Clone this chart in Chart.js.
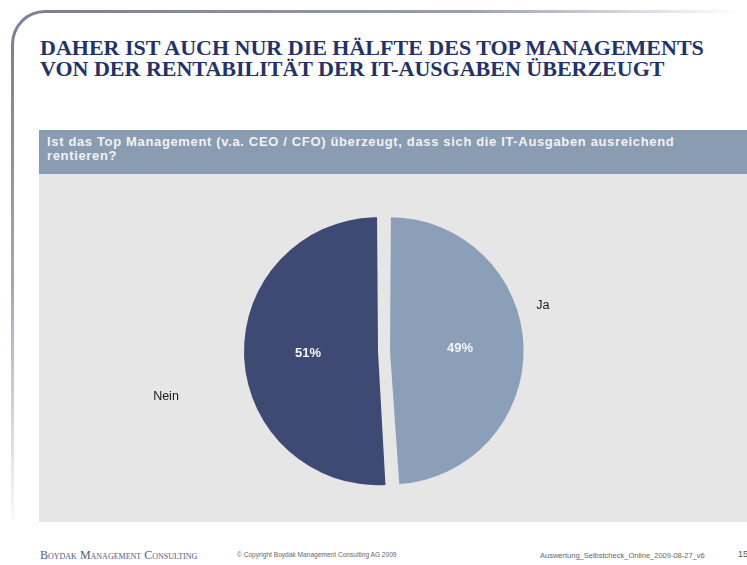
<!DOCTYPE html>
<html>
<head>
<meta charset="utf-8">
<script src="https://cdn.jsdelivr.net/npm/chart.js@4.4.0/dist/chart.umd.min.js"></script>
<style>
  html, body { margin: 0; padding: 0; background: #fff; }
  body { width: 747px; height: 565px; position: relative; overflow: hidden; font-family: "Liberation Sans", Arial, sans-serif; }
  .corner { position: absolute; left: 11px; top: 10px; width: 40px; height: 40px; border-left: 3px solid #7c8198; border-top: 3px solid #7c8198; border-top-left-radius: 34px; box-sizing: border-box; }
  .topline { position: absolute; left: 50px; top: 10px; width: 690px; height: 3px; background: linear-gradient(to right, #7c8198 0%, #9a9eb0 60%, rgba(220,222,230,0) 100%); }
  .leftline { position: absolute; left: 11px; top: 50px; width: 3px; height: 470px; background: linear-gradient(to bottom, #7c8198 0%, #a3a7b8 50%, rgba(235,236,240,0.3) 100%); }
  .title { position: absolute; left: 40px; top: 37px; font-family: "Liberation Serif", "Times New Roman", serif; font-weight: bold; font-size: 22px; line-height: 21px; color: #22326d; white-space: nowrap; }
  .bar { position: absolute; left: 39px; top: 130px; width: 708px; height: 44px; background: #8a9cb1; }
  .bar span { position: absolute; left: 8px; top: 5px; font-weight: bold; font-size: 13px; letter-spacing: 0.65px; line-height: 14px; color: #f1f2f5; white-space: nowrap; }
  .panel { position: absolute; left: 39px; top: 174px; width: 708px; height: 348px; background: #e6e6e6; }
  .footer { position: absolute; top: 551px; white-space: nowrap; }
  .f1 { left: 40px; font-family: "Liberation Serif", serif; font-variant: small-caps; font-size: 12px; color: #4d5a8a; top: 548px; }
  .f2 { left: 237px; font-size: 6.6px; color: #666; }
  .f3 { left: 540px; font-size: 7.5px; color: #666; }
  .f4 { left: 738px; font-size: 9px; color: #555; top: 549px; }
</style>
</head>
<body>
<div class="corner"></div>
<div class="topline"></div>
<div class="leftline"></div>
<div class="title">DAHER IST AUCH NUR DIE HÄLFTE DES TOP MANAGEMENTS<br>VON DER RENTABILITÄT DER IT-AUSGABEN ÜBERZEUGT</div>
<div class="bar"><span>Ist das Top Management (v.a. CEO / CFO) überzeugt, dass sich die IT-Ausgaben ausreichend<br>rentieren?</span></div>
<div class="panel"><canvas id="pieChart" width="708" height="348"></canvas></div>
<div class="footer f1">Boydak Management Consulting</div>
<div class="footer f2">© Copyright Boydak Management Consulting AG 2009</div>
<div class="footer f3">Auswertung_Selbstcheck_Online_2009-08-27_v6</div>
<div class="footer f4">15</div>

<script>
// Chart data
const categories = ['Ja', 'Nein'];
const shares = [49, 51];
const sliceColors = ['#8ba0b8', '#3e4a73'];

// outside label placement: [radius factor, angle shift in degrees]
const outsideLabelPos = [[1.29, -14], [1.74, -10]];

const sliceLabels = {
  id: 'sliceLabels',
  afterDatasetsDraw(chart) {
    const ctx = chart.ctx;
    const meta = chart.getDatasetMeta(0);
    ctx.save();
    ctx.textAlign = 'center';
    ctx.textBaseline = 'middle';
    meta.data.forEach((arc, i) => {
      const p = arc.tooltipPosition();
      ctx.font = 'bold 13px "Liberation Sans", Arial, sans-serif';
      ctx.fillStyle = '#f4f5f8';
      ctx.fillText(shares[i] + '%', p.x, p.y);

      const props = arc.getProps(['x', 'y', 'startAngle', 'endAngle', 'outerRadius']);
      const mid = (props.startAngle + props.endAngle) / 2 + outsideLabelPos[i][1] * Math.PI / 180;
      const r = props.outerRadius * outsideLabelPos[i][0];
      ctx.font = '12.5px "Liberation Sans", Arial, sans-serif';
      ctx.fillStyle = '#1a1a1a';
      ctx.fillText(categories[i], props.x + Math.cos(mid) * r, props.y + Math.sin(mid) * r);
    });
    ctx.restore();
  }
};

const ctx = document.getElementById('pieChart').getContext('2d');
new Chart(ctx, {
  type: 'pie',
  data: {
    labels: categories,
    datasets: [{
      data: shares,
      backgroundColor: sliceColors,
      borderWidth: 0,
      offset: 24
    }]
  },
  options: {
    responsive: false,
    animation: false,
    layout: { padding: { top: 37, bottom: 31, left: 0, right: 18 } },
    plugins: {
      legend: { display: false },
      tooltip: { enabled: false }
    }
  },
  plugins: [sliceLabels]
});
</script>
</body>
</html>
